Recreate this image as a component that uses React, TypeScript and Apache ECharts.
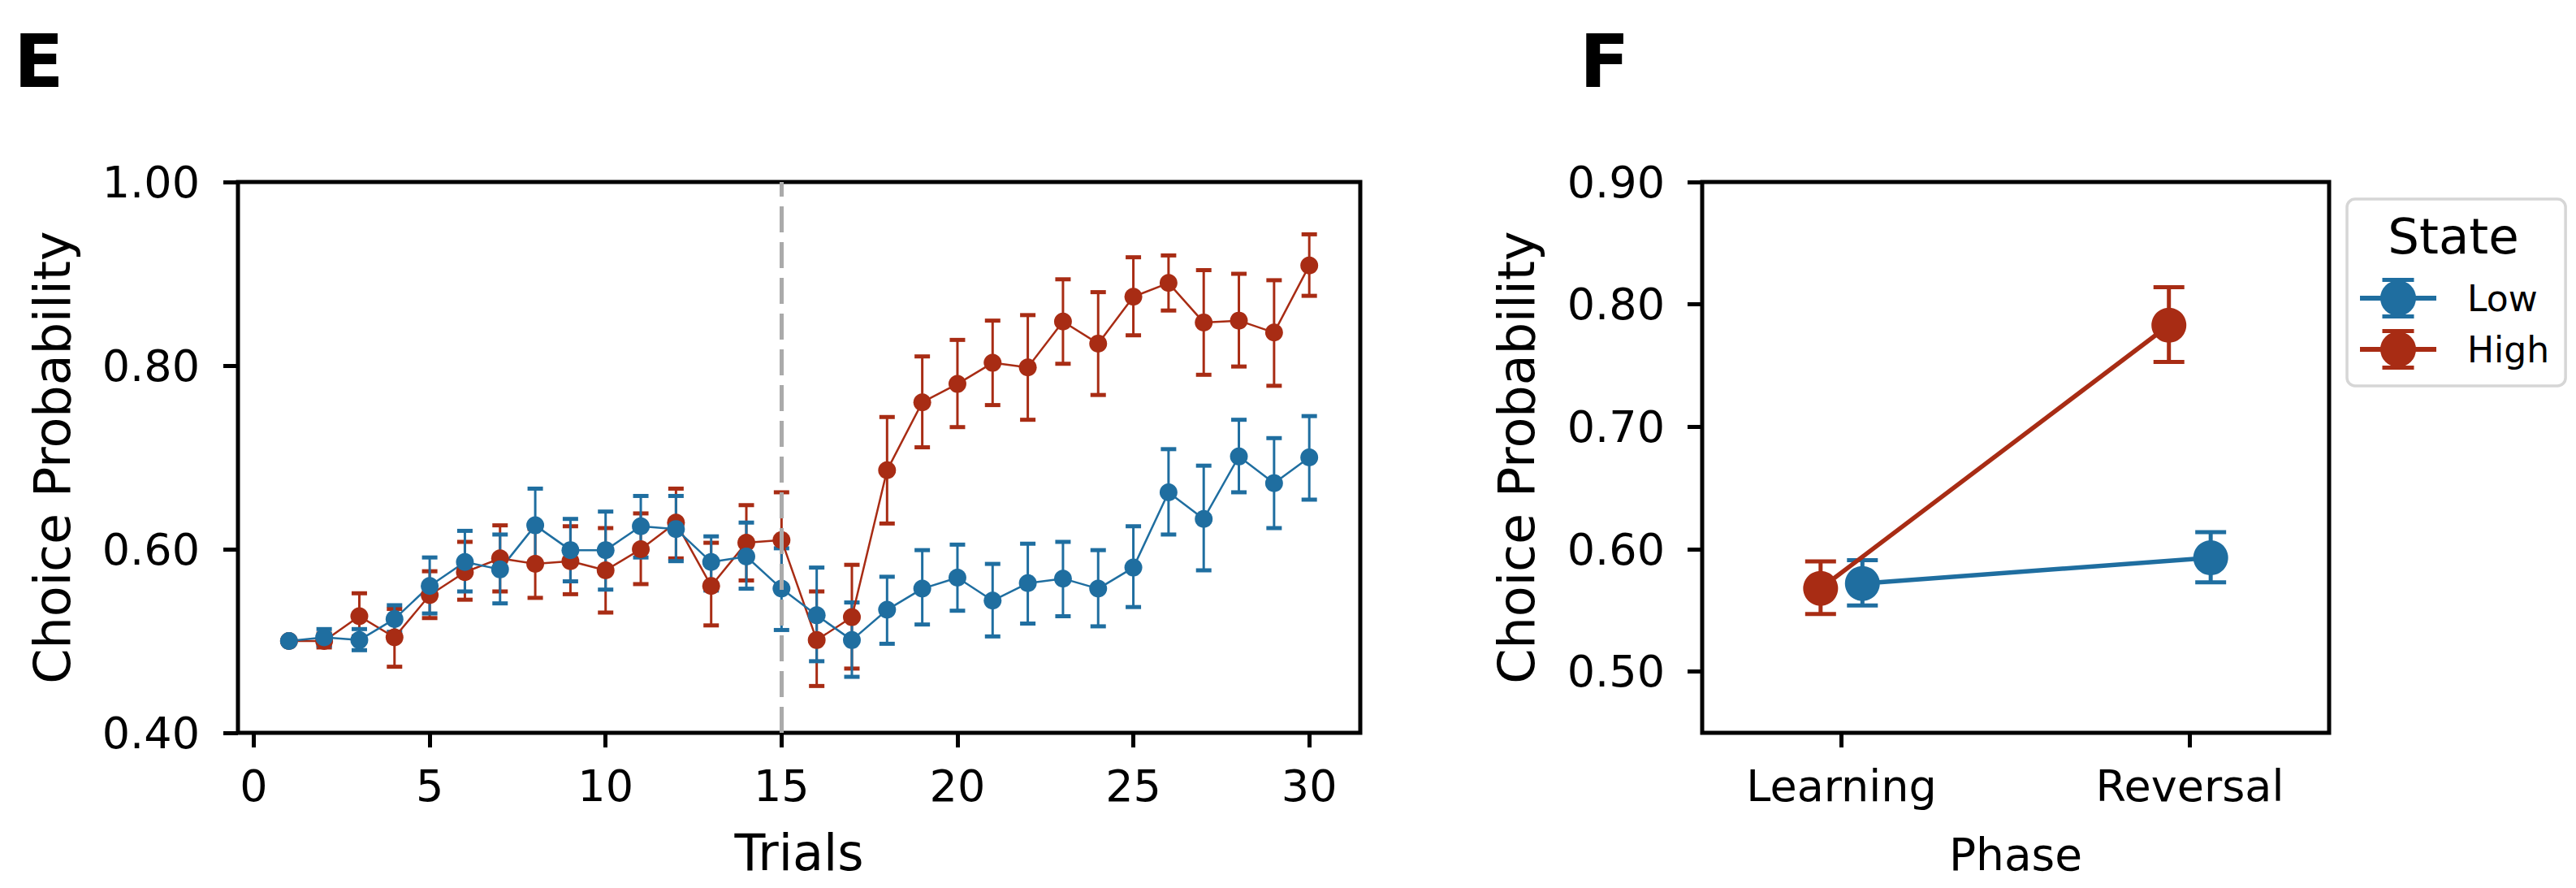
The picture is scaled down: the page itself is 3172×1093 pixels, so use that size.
import React, { useEffect, useRef } from "react";
import * as echarts from "echarts";

// ---------- data ----------
const trials = [1, 2, 3, 4, 5, 6, 7, 8, 9, 10, 11, 12, 13, 14, 15, 16, 17, 18, 19, 20, 21, 22, 23, 24, 25, 26, 27, 28, 29, 30];
const trialTicks = [0, 5, 10, 15, 20, 25, 30];
const reversalTrial = 15;

const lowMean = [0.500, 0.504, 0.501, 0.524, 0.560, 0.586, 0.578, 0.626, 0.599, 0.599, 0.625, 0.622, 0.586, 0.592, 0.557, 0.528, 0.501, 0.534, 0.557, 0.569, 0.544, 0.563, 0.568, 0.557, 0.580, 0.662, 0.633, 0.701, 0.672, 0.700];
const lowLo = [0.500, 0.495, 0.490, 0.510, 0.530, 0.554, 0.541, 0.585, 0.565, 0.556, 0.591, 0.587, 0.555, 0.557, 0.512, 0.478, 0.461, 0.497, 0.518, 0.533, 0.505, 0.519, 0.527, 0.516, 0.537, 0.616, 0.577, 0.662, 0.623, 0.654];
const lowHi = [0.500, 0.513, 0.513, 0.539, 0.591, 0.620, 0.616, 0.666, 0.633, 0.641, 0.658, 0.658, 0.614, 0.629, 0.601, 0.580, 0.542, 0.570, 0.599, 0.605, 0.584, 0.606, 0.608, 0.599, 0.625, 0.709, 0.691, 0.741, 0.721, 0.745];

const highMean = [0.500, 0.500, 0.527, 0.504, 0.550, 0.575, 0.590, 0.584, 0.587, 0.577, 0.600, 0.629, 0.560, 0.607, 0.610, 0.501, 0.526, 0.686, 0.760, 0.780, 0.803, 0.798, 0.848, 0.824, 0.875, 0.890, 0.847, 0.849, 0.836, 0.909];
const highLo = [0.500, 0.493, 0.505, 0.472, 0.525, 0.545, 0.554, 0.547, 0.551, 0.531, 0.562, 0.590, 0.517, 0.566, 0.560, 0.451, 0.470, 0.628, 0.711, 0.733, 0.757, 0.741, 0.802, 0.768, 0.833, 0.860, 0.790, 0.799, 0.778, 0.876];
const highHi = [0.500, 0.508, 0.552, 0.535, 0.576, 0.608, 0.626, 0.622, 0.625, 0.623, 0.639, 0.666, 0.607, 0.648, 0.662, 0.554, 0.583, 0.744, 0.810, 0.828, 0.849, 0.855, 0.894, 0.880, 0.918, 0.920, 0.904, 0.900, 0.893, 0.943];

const phases = ["Learning", "Reversal"];
const lowPhaseMean = [0.572, 0.593];
const lowPhaseLo = [0.554, 0.573];
const lowPhaseHi = [0.591, 0.614];
const highPhaseMean = [0.568, 0.783];
const highPhaseLo = [0.547, 0.753];
const highPhaseHi = [0.590, 0.814];

const leftYTicks = [0.4, 0.6, 0.8, 1.0];
const rightYTicks = [0.5, 0.6, 0.7, 0.8, 0.9];

// ---------- styles ----------
const BLUE = "#1f6ea0";
const RED = "#a82c14";
const FONT = "DejaVu Sans";
const DODGE = 0.06;

const LEGEND_ICON =
  "path://M0 22H94V28H0Z M25 25A22 22 0 1 1 69 25A22 22 0 1 1 25 25Z M27.5 0H66.5V5H27.5Z M27.5 45H66.5V50H27.5Z M45 0H49V50H45Z";

function errRender(color: string, capHalf: number, stemW: number, capW: number) {
  return (params: any, api: any) => {
    const x = api.value(0);
    const lo = api.coord([x, api.value(1)]);
    const hi = api.coord([x, api.value(2)]);
    return {
      type: "group",
      children: [
        { type: "line", shape: { x1: lo[0], y1: lo[1], x2: hi[0], y2: hi[1] }, style: { stroke: color, lineWidth: stemW } },
        { type: "line", shape: { x1: lo[0] - capHalf, y1: lo[1], x2: lo[0] + capHalf, y2: lo[1] }, style: { stroke: color, lineWidth: capW } },
        { type: "line", shape: { x1: hi[0] - capHalf, y1: hi[1], x2: hi[0] + capHalf, y2: hi[1] }, style: { stroke: color, lineWidth: capW } },
      ],
    };
  };
}

const tickStyle = { show: true, inside: false, length: 18, lineStyle: { color: "#000", width: 5 } };
const hiddenLine = { show: false, onZero: false };

function buildOption() {
  const grids = [
    { left: 293, top: 224, width: 1382, height: 678, show: true, borderColor: "#000", borderWidth: 5, backgroundColor: "transparent" },
    { left: 2096, top: 224, width: 772, height: 678, show: true, borderColor: "#000", borderWidth: 5, backgroundColor: "transparent" },
  ];
  return {
    animation: false,
    backgroundColor: "#fff",
    textStyle: { fontFamily: FONT, color: "#000" },
    grid: grids,
    xAxis: [
      {
        type: "value", gridIndex: 0, min: -0.45, max: 31.45,
        axisLine: hiddenLine, splitLine: { show: false },
        axisTick: { ...tickStyle, customValues: trialTicks },
        axisLabel: { customValues: trialTicks, fontSize: 54, color: "#000", margin: 38, fontFamily: FONT },
        name: "Trials", nameLocation: "middle", nameGap: 116,
        nameTextStyle: { fontSize: 62, color: "#000", fontFamily: FONT },
      },
      {
        type: "value", gridIndex: 1, min: -0.4, max: 1.4,
        axisLine: hiddenLine, splitLine: { show: false },
        axisTick: { ...tickStyle, customValues: [0, 1] },
        axisLabel: { customValues: [0, 1], fontSize: 54, color: "#000", margin: 38, fontFamily: FONT, formatter: (v: number) => phases[Math.round(v)] },
        name: "Phase", nameLocation: "middle", nameGap: 122,
        nameTextStyle: { fontSize: 55, color: "#000", fontFamily: FONT },
      },
    ],
    yAxis: [
      {
        type: "value", gridIndex: 0, min: 0.4, max: 1.0,
        axisLine: hiddenLine, splitLine: { show: false },
        axisTick: { ...tickStyle, customValues: leftYTicks },
        axisLabel: { customValues: leftYTicks, fontSize: 54, color: "#000", margin: 47, fontFamily: FONT, formatter: (v: number) => v.toFixed(2) },
        name: "Choice Probability", nameLocation: "middle", nameGap: 198,
        nameTextStyle: { fontSize: 62, color: "#000", fontFamily: FONT },
      },
      {
        type: "value", gridIndex: 1, min: 0.45, max: 0.9,
        axisLine: hiddenLine, splitLine: { show: false },
        axisTick: { ...tickStyle, customValues: rightYTicks },
        axisLabel: { customValues: rightYTicks, fontSize: 54, color: "#000", margin: 46, fontFamily: FONT, formatter: (v: number) => v.toFixed(2) },
        name: "Choice Probability", nameLocation: "middle", nameGap: 198,
        nameTextStyle: { fontSize: 62, color: "#000", fontFamily: FONT },
      },
    ],
    legend: {
      orient: "vertical",
      left: 2890, top: 245,
      itemWidth: 94, itemHeight: 50, itemGap: 13,
      padding: [97, 20, 20, 16],
      borderColor: "#d6d6d6", borderWidth: 3.5, borderRadius: 10,
      backgroundColor: "#fff",
      itemStyle: { borderWidth: 0 },
      textStyle: { fontSize: 44, color: "#000", fontFamily: FONT, padding: [0, 0, 0, 33] },
      selectedMode: false,
      data: [
        { name: "Low", icon: LEGEND_ICON, itemStyle: { color: BLUE } },
        { name: "High", icon: LEGEND_ICON, itemStyle: { color: RED } },
      ],
    },
    graphic: [
      { type: "text", z: 100, left: 17, top: 30, style: { text: "E", fontSize: 90, fontWeight: "bold", fontFamily: FONT, fill: "#000" } },
      { type: "text", z: 100, left: 1945, top: 30, style: { text: "F", fontSize: 90, fontWeight: "bold", fontFamily: FONT, fill: "#000" } },
      { type: "text", z: 100, x: 3021, y: 290, style: { text: "State", fontSize: 61, fontFamily: FONT, fill: "#000", align: "center", verticalAlign: "middle" } },
    ],
    series: [
      {
        type: "custom", name: "High", xAxisIndex: 0, yAxisIndex: 0, z: 2,
        renderItem: errRender(RED, 9.5, 3, 5),
        encode: { x: 0, y: [1, 2] },
        itemStyle: { color: RED },
        data: trials.map((t, i) => [t, highLo[i], highHi[i]]),
      },
      {
        type: "line", name: "High", xAxisIndex: 0, yAxisIndex: 0, z: 2,
        symbol: "circle", symbolSize: 22, showSymbol: true,
        itemStyle: { color: RED }, lineStyle: { color: RED, width: 2.5 },
        data: trials.map((t, i) => [t, highMean[i]]),
      },
      {
        type: "custom", name: "Low", xAxisIndex: 0, yAxisIndex: 0, z: 2,
        renderItem: errRender(BLUE, 9.5, 3, 5),
        encode: { x: 0, y: [1, 2] },
        itemStyle: { color: BLUE },
        data: trials.map((t, i) => [t, lowLo[i], lowHi[i]]),
      },
      {
        type: "line", name: "Low", xAxisIndex: 0, yAxisIndex: 0, z: 2,
        symbol: "circle", symbolSize: 22, showSymbol: true,
        itemStyle: { color: BLUE }, lineStyle: { color: BLUE, width: 2.5 },
        data: trials.map((t, i) => [t, lowMean[i]]),
      },
      {
        type: "line", name: "reversal", xAxisIndex: 0, yAxisIndex: 0, z: 5,
        data: [],
        markLine: {
          silent: true, symbol: ["none", "none"], animation: false,
          label: { show: false },
          lineStyle: { type: [32, 12], color: "#aaaaaa", width: 5 },
          data: [{ xAxis: reversalTrial }],
        },
      },
      {
        type: "custom", name: "High", xAxisIndex: 1, yAxisIndex: 1, z: 2,
        renderItem: errRender(RED, 19, 5, 5),
        encode: { x: 0, y: [1, 2] },
        itemStyle: { color: RED },
        data: phases.map((p, i) => [i - DODGE, highPhaseLo[i], highPhaseHi[i]]),
      },
      {
        type: "line", name: "High", xAxisIndex: 1, yAxisIndex: 1, z: 2,
        symbol: "circle", symbolSize: 43, showSymbol: true,
        itemStyle: { color: RED }, lineStyle: { color: RED, width: 5.5 },
        data: phases.map((p, i) => [i - DODGE, highPhaseMean[i]]),
      },
      {
        type: "custom", name: "Low", xAxisIndex: 1, yAxisIndex: 1, z: 2,
        renderItem: errRender(BLUE, 19, 5, 5),
        encode: { x: 0, y: [1, 2] },
        itemStyle: { color: BLUE },
        data: phases.map((p, i) => [i + DODGE, lowPhaseLo[i], lowPhaseHi[i]]),
      },
      {
        type: "line", name: "Low", xAxisIndex: 1, yAxisIndex: 1, z: 2,
        symbol: "circle", symbolSize: 43, showSymbol: true,
        itemStyle: { color: BLUE }, lineStyle: { color: BLUE, width: 5.5 },
        data: phases.map((p, i) => [i + DODGE, lowPhaseMean[i]]),
      },
    ],
  };
}

export default function App() {
  const ref = useRef<HTMLDivElement>(null);
  useEffect(() => {
    if (!ref.current) return;
    const chart = echarts.init(ref.current, undefined, { renderer: "svg" });
    chart.setOption(buildOption() as any);
    return () => chart.dispose();
  }, []);
  return (
    <div
      ref={ref}
      style={{ position: "fixed", left: 0, top: 0, width: 3172, height: 1093, background: "#fff" }}
    />
  );
}
